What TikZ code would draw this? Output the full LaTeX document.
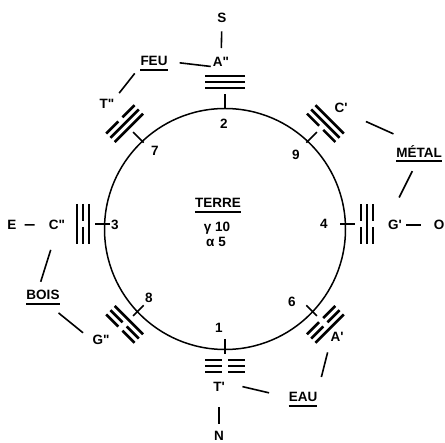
\documentclass[tikz,border=0pt]{standalone}
\usepackage{fontspec}
\setmainfont{Liberation Sans}
\usetikzlibrary{calc}

\newcommand{\lbl}{\fontsize{13.5}{15}\selectfont\bfseries}
% one trigram: angle, lines from inside to outside (1 = yang, 0 = yin)
\newcommand{\gua}[2]{%
  \foreach \bit [count=\i from 0] in {#2} {
    \pgfmathsetmacro{\dist}{136+6*\i}
    \ifnum\bit=1
      \draw[trait] ($(ctr)+(#1:\dist)+(#1+90:20)$) -- ($(ctr)+(#1:\dist)+(#1-90:20)$);
    \else
      \draw[trait] ($(ctr)+(#1:\dist)+(#1+90:20)$) -- ($(ctr)+(#1:\dist)+(#1+90:3)$)
        ($(ctr)+(#1:\dist)+(#1-90:3)$) -- ($(ctr)+(#1:\dist)+(#1-90:20)$);
    \fi
  }}

\begin{document}
\begin{tikzpicture}[x=1pt, y=-1pt,
    lab/.style={inner sep=0pt, anchor=base, font=\lbl},
    link/.style={line width=1.6pt},
    soul/.style={line width=1.8pt},
    trait/.style={line width=2.6pt},
    repere/.style={line width=1.6pt},
    cercle/.style={line width=1.5pt}]
    \useasboundingbox (0,0) rectangle (445,443);
    \coordinate (ctr) at (225,224);
    \draw[cercle] (225,229) circle (120.5);
    \foreach \a in {0,45,...,315}
        \draw[repere] ($(ctr)+(\a:115)$) -- ($(ctr)+(\a:130)$);
    % trigrams
    \gua{270}{1,1,1}
    \gua{315}{0,1,1}
    \gua{0}{0,1,0}
    \gua{45}{0,0,1}
    \gua{90}{0,0,0}
    \gua{135}{1,0,0}
    \gua{180}{1,0,1}
    \gua{225}{1,1,0}
    % numbers
    \node[lab] (n2) at (224,128.5) {2};
    \node[lab] (n9) at (296,159.5) {9};
    \node[lab] (n4) at (324,228.5) {4};
    \node[lab] (n6) at (292,306.5) {6};
    \node[lab] (n1) at (219,332.5) {1};
    \node[lab] (n8) at (149,302.5) {8};
    \node[lab] (n3) at (115,229.5) {3};
    \node[lab] (n7) at (155,155.5) {7};
    % centre
    \node[lab] (TERRE) at (218,208) {TERRE};
    \node[lab] (gam) at (217,232) {γ 10};
    \node[lab] (alf) at (216,246.5) {α 5};
    % outer labels
    \node[lab] (S) at (222,23) {S};
    \node[lab] (A2) at (221,66.5) {A\textquotedbl};
    \node[lab] (FEU) at (154,66) {FEU};
    \node[lab] (T2) at (107,108.5) {T\textquotedbl};
    \node[lab] (C1) at (341,113) {C\textquotesingle};
    \node[lab] (METAL) at (419,157.5) {MÉTAL};
    \node[lab] (G1) at (395,229.5) {G\textquotesingle};
    \node[lab] (O) at (439,229.5) {O};
    \node[lab] (E) at (12,229.5) {E};
    \node[lab] (C2) at (57,229.5) {C\textquotedbl};
    \node[lab] (BOIS) at (43,300) {BOIS};
    \node[lab] (G2) at (101,345) {G\textquotedbl};
    \node[lab] (A1) at (337,341.5) {A\textquotesingle};
    \node[lab] (EAU) at (303,402) {EAU};
    \node[lab] (T1) at (219,392) {T\textquotesingle};
    \node[lab] (N) at (219,440.5) {N};
    \foreach \u in {FEU,METAL,BOIS,TERRE,EAU}
        \draw[soul] ([yshift=-3.5pt]\u.south west) -- ([yshift=-3.5pt]\u.south east);
    % connectors
    \draw[link, shorten <=8pt, shorten >=9pt] (S) -- (A2);
    \draw[link, shorten <=12pt, shorten >=2pt] (FEU.east) -- (A2.south west);
    \draw[link, shorten <=9pt, shorten >=7.5pt] (FEU.south west) -- (T2.north east);
    \draw[link, shorten <=20pt, shorten >=28pt] (C1.south east) -- (METAL.north);
    \draw[link, shorten <=15pt, shorten >=25pt] (METAL.south) -- (G1.north west);
    \draw[link, shorten <=4pt, shorten >=13pt] (G1.east) -- (O.west);
    \draw[link, shorten <=8pt, shorten >=14pt] (E.east) -- (C2.west);
    \draw[link, shorten <=21pt, shorten >=9pt] (C2.south) -- ([xshift=-5pt]BOIS.north);
    \draw[link, shorten <=20pt, shorten >=12pt] (BOIS.south) -- (G2.west);
    \draw[link, shorten <=11pt, shorten >=16pt] (A1.south west) -- (EAU.north east);
    \draw[link, shorten <=18pt, shorten >=20pt] (T1.north east) -- (EAU.west);
    \draw[link, shorten <=15pt, shorten >=7.5pt] (T1.south) -- (N.north);
\end{tikzpicture}
\end{document}
